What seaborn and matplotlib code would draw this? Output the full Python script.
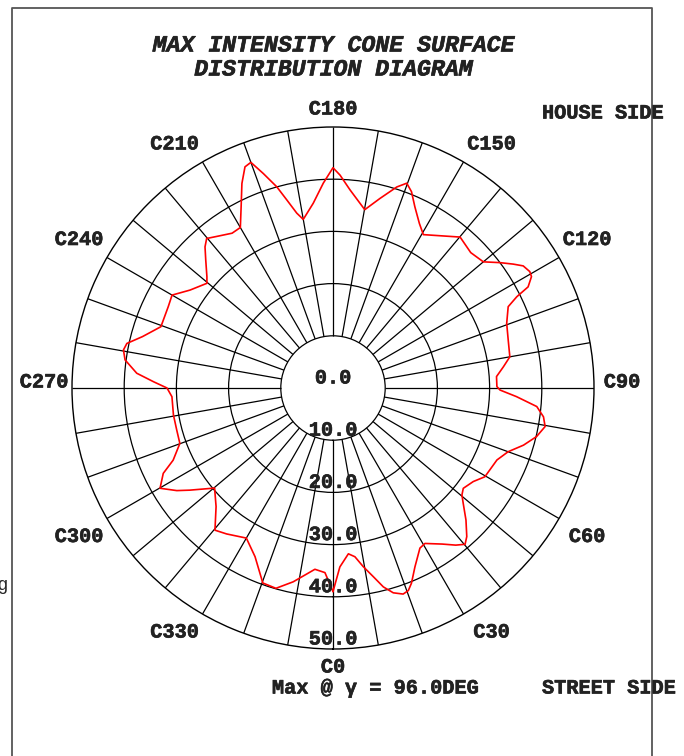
import matplotlib
matplotlib.use('Agg')
import matplotlib.pyplot as plt
import matplotlib.patheffects as pe
import numpy as np
import seaborn as sns
from matplotlib.lines import Line2D

# curve: C-plane angle (deg) -> value
c_angle = [0, 2.2, 5.3, 7.4, 9.6, 12.1, 14.2, 16.4, 18.8, 20.4, 21.9, 24.6, 28.5, 30.6,
           35, 38, 40.2, 42, 45.2, 48.5, 50.3, 52.4, 56.3, 59.7, 66.3, 70, 73.3, 76.6,
           79.7, 82.2, 84.8, 87.3, 89.3, 90.5, 94, 97.1, 100, 105.3, 110.4, 114.9,
           116.4, 117.4, 119.3, 120.6, 122.7, 124.5, 126.9, 130, 134.5, 139.9, 144,
           149.5, 152.3, 155.7, 158.2, 160.2, 162.4, 166.1, 169.9, 175.1, 178.1, 180,
           182.7, 186.1, 190, 191.7, 193.8, 195.6, 198, 200, 201.7, 204, 206.9, 210,
           213.1, 217.5, 220.2, 222.2, 224.8, 228.6, 230.3, 235.6, 240, 243.7, 250.4,
           254.9, 257.8, 259.7, 262.3, 265.7, 268, 270, 273.1, 279.6, 285, 289.9,
           294.3, 296.7, 300.1, 303.3, 305.5, 310.2, 315.4, 320.3, 323.9, 330, 335.2,
           340.2, 344.1, 348.4, 354.3, 357.5, 360]
intensity = [39.0, 34.3, 31.9, 32.6, 34.7, 37.0, 39.3, 40.9, 41.7, 41.4, 40.3, 37.7,
             34.9, 34.6, 36.5, 38.2, 39.2, 38.3, 35.9, 33.3, 32.1, 31.5, 32.3, 33.7,
             34.3, 35.7, 38.1, 40.1, 41.3, 40.7, 39.2, 35.2, 32.0, 31.4, 31.4, 32.9,
             34.4, 34.8, 35.5, 37.0, 39.3, 42.1, 43.6, 43.8, 43.3, 41.9, 40.0, 37.6,
             37.0, 37.8, 36.0, 34.1, 35.6, 38.1, 40.5, 41.7, 40.4, 37.4, 34.7, 38.1,
             40.8, 42.2, 39.3, 35.6, 32.8, 34.2, 37.1, 40.0, 43.2, 46.0, 45.6, 42.9,
             38.9, 35.5, 35.4, 36.6, 37.5, 36.5, 34.6, 32.2, 31.4, 33.2, 35.6, 35.2,
             35.0, 37.8, 40.4, 40.8, 40.2, 37.7, 34.4, 31.8, 30.9, 31.0, 31.0, 31.2,
             33.6, 36.4, 38.3, 35.8, 33.7, 29.7, 31.9, 35.4, 34.6, 33.2, 35.6, 39.7,
             39.9, 37.9, 34.9, 35.4, 39.0]

ring_values = [0, 10, 20, 30, 40, 50]
spoke_angles = list(range(0, 360, 10))
c_label_angles = list(range(0, 360, 30))
c_labels = ['C%d' % a for a in c_label_angles]

W, H = 684, 756


def fx(px):
    return px / W


def fy(py):
    return 1 - py / H


sns.set_style('white')
plt.rcParams['font.family'] = ['Liberation Mono', 'DejaVu Sans']

# a little extra weight, courier bold look
heavy = [pe.withStroke(linewidth=0.45, foreground='#222222')]

fig = plt.figure(figsize=(W / 100, H / 100), dpi=100)
cx, cy, rad = 333, 388, 261
ax = fig.add_axes([fx(cx - rad), fy(cy + rad), 2 * rad / W, 2 * rad / H], projection='polar')
ax.set_theta_zero_location('S')
ax.set_theta_direction(1)
ax.set_ylim(0, 50)
ax.set_xticks([])
ax.set_yticks(ring_values[1:-1])
ax.set_yticklabels([])
ax.yaxis.grid(True, color='black', lw=0.9)
ax.spines['polar'].set_linewidth(1.0)
ax.spines['polar'].set_color('black')

# spokes start at the inner ring
ax.vlines(np.deg2rad(spoke_angles), ring_values[1], ring_values[-1], color='black', lw=0.9)

sns.lineplot(x=np.deg2rad(c_angle), y=intensity, ax=ax, color='red', lw=1.2,
             sort=False, estimator=None)
ax.set_xlabel('')
ax.set_ylabel('')

lab_kw = dict(fontsize=14.6, fontweight='bold', ha='center', va='center',
              color='#222222', path_effects=heavy)

# ring value labels, just above each ring on the C0 side
for v in ring_values:
    ax.annotate('%.1f' % v, xy=(0, v), xytext=(0, 10), textcoords='offset pixels',
                annotation_clip=False, **lab_kw)

# C-plane labels outside the rim
for a, lab in zip(c_label_angles, c_labels):
    t = np.deg2rad(a)
    dx = 28 * np.clip(2 * np.sin(t), -1, 1)
    dy = -18 * np.clip(2 * np.cos(t), -1, 1)
    if a % 180 == 90:
        dy = 6
    ax.annotate(lab, xy=(t, 50), xytext=(dx, dy), textcoords='offset pixels',
                annotation_clip=False, **lab_kw)

title_kw = dict(fontsize=16.7, fontweight='bold', fontstyle='italic', ha='center',
                va='center', color='#222222', path_effects=heavy)
fig.text(fx(333), fy(45), 'MAX INTENSITY CONE SURFACE', **title_kw)
fig.text(fx(333), fy(69), 'DISTRIBUTION DIAGRAM', **title_kw)

side_kw = dict(fontsize=14.6, fontweight='bold', va='center', color='#222222',
               path_effects=heavy)
fig.text(fx(542), fy(113), 'HOUSE SIDE', ha='left', **side_kw)
fig.text(fx(542), fy(688), 'STREET SIDE', ha='left', **side_kw)
fig.text(fx(375), fy(688), 'Max @ \u03b3 = 96.0DEG', ha='center', **side_kw)
# label running off the left page edge in the original
fig.text(fx(9), fy(585), 'deg', ha='right', fontsize=13, va='center')

# page frame
fig.add_artist(Line2D([fx(12), fx(12), fx(652), fx(652)], [0, fy(8), fy(8), 0],
                      color='#555555', lw=1.3))

fig.savefig('out.png', dpi=100)
